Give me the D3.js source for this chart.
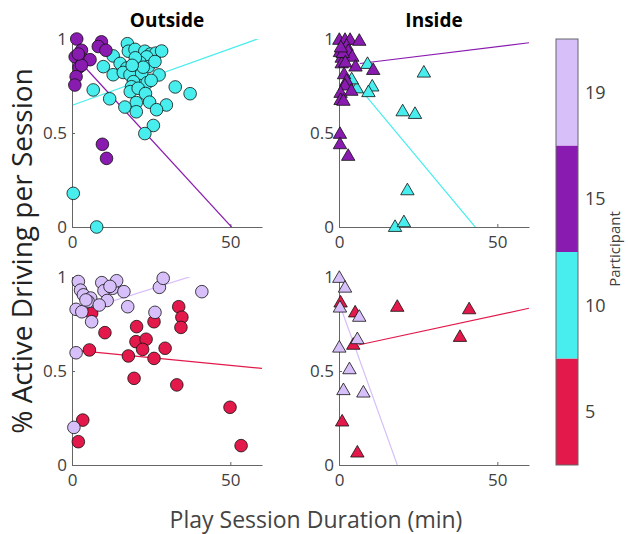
<!DOCTYPE html>
<html>
<head>
<meta charset="utf-8">
<script src="https://cdn.jsdelivr.net/npm/d3@7"></script>
<style>
  body { margin: 0; background: #fff; }
  svg { font-family: "Open Sans", "Noto Sans", sans-serif; }
</style>
</head>
<body>
<svg width="628" height="534"></svg>
<script>
// ---- data ----
const participants = [5, 10, 15, 19];
const participantColors = ["#e2194a", "#48eded", "#8a1bb0", "#d7bffa"];
const xTicks = [0, 50];
const yTicks = [0, 0.5, 1];

// Outside, participant 10 (cyan circles)
const outside10 = [[17.5,0.975],[17.8,0.935],[19.9,0.945],[23.0,0.935],[24.8,0.92],[26.5,0.925],[28.3,0.936],
  [23.6,0.905],[13.0,0.91],[9.9,0.853],[15.2,0.87],[17.3,0.845],[21.5,0.875],[24.1,0.853],[26.2,0.88],[13.0,0.81],
  [16.2,0.822],[18.3,0.809],[22.0,0.817],[27.5,0.809],[19.4,0.773],[23.7,0.767],[18.8,0.746],[6.7,0.729],
  [18.4,0.72],[20.9,0.738],[23.2,0.71],[11.9,0.682],[20.3,0.662],[24.5,0.664],[29.8,0.649],[16.7,0.638],
  [20.3,0.613],[26.7,0.624],[32.6,0.745],[37.3,0.709],[25.7,0.54],[23.0,0.497],[0.4,0.179],[7.8,0.0],
  [20.0,0.90],[22.5,0.85],[19.0,0.86],[25.0,0.78]];
// Outside, participant 15 (purple circles)
const outside15 = [[1.5,1.0],[3.0,0.94],[1.0,0.905],[3.5,0.89],[5.7,0.89],[2.2,0.85],[1.3,0.80],[0.9,0.755],
  [3.0,0.86],[9.3,0.985],[8.3,0.96],[10.7,0.94],[9.6,0.44],[10.9,0.365],[2.0,0.92]];
// Inside, participant 10 (cyan triangles)
const inside10 = [[9.0,0.872],[26.8,0.826],[5.6,0.742],[10.5,0.752],[9.3,0.722],[20.1,0.62],[24.0,0.606],
  [21.6,0.2],[17.7,0.005],[20.5,0.03],[4.0,0.79]];
// Inside, participant 15 (purple triangles)
const inside15 = [[0.1,1.0],[1.9,1.0],[3.5,1.0],[6.4,0.995],[2.4,0.968],[2.9,0.94],[0.3,0.935],[0.85,0.905],
  [4.2,0.91],[0.85,0.875],[5.2,0.858],[10.8,0.84],[1.6,0.817],[2.4,0.782],[1.9,0.757],[3.9,0.729],[0.5,0.718],
  [0.5,0.68],[1.4,0.676],[0.3,0.5],[0.3,0.445],[2.9,0.383],[1.2,0.93],[2.0,0.88],[0.6,0.96]];
// Outside, participant 5 (red circles)
const outside5 = [[6.2,0.807],[10.4,0.704],[5.5,0.612],[20.4,0.736],[25.9,0.762],[20.2,0.656],[23.4,0.669],
  [22.3,0.615],[29.4,0.621],[17.8,0.58],[25.9,0.567],[19.6,0.461],[33.1,0.426],[33.7,0.842],[34.7,0.786],
  [34.4,0.732],[49.9,0.307],[53.4,0.103],[3.4,0.239],[2.0,0.124]];
// Outside, participant 19 (lavender circles)
const outside19 = [[2.0,0.976],[2.7,0.93],[3.6,0.905],[5.9,0.888],[5.1,0.87],[9.4,0.97],[10.1,0.927],[12.8,0.94],
  [14.1,0.98],[16.4,0.922],[11.1,0.875],[8.6,0.851],[1.3,0.828],[3.1,0.815],[6.2,0.762],[17.6,0.842],[26.2,0.812],
  [27.6,0.945],[28.8,0.993],[41.0,0.922],[1.3,0.597],[0.6,0.2],[12.0,0.95],[4.4,0.878]];
// Inside, participant 5 (red triangles)
const inside5 = [[0.5,0.869],[5.1,0.816],[4.5,0.644],[18.4,0.846],[41.1,0.833],[38.2,0.686],[1.0,0.236],[5.8,0.071]];
// Inside, participant 19 (lavender triangles)
const inside19 = [[0.1,1.0],[1.9,0.948],[0.3,0.842],[6.4,0.793],[5.8,0.674],[0.1,0.629],[3.3,0.514],[1.4,0.403],[7.7,0.39]];

// linear fits: [intercept, slope, x start]
const fitOutside10 = [0.647, 0.00603, 0.3];
const fitOutside15 = [0.925, -0.01836, 4.1];
const fitInside10 = [0.869, -0.0202, 2.9];
const fitInside15 = [0.856, 0.00207, 6.6];
const fitOutside5 = [0.612, -0.00164, 1.3];
const fitOutside19 = [0.804, 0.0053, 3];
const fitInside5 = [0.616, 0.00363, 6.1];
const fitInside19 = [0.864, -0.0469, 0.3];

const xMax = 60;

const svg = d3.select("svg");
const color = d3.scaleOrdinal(participants, participantColors);

const panels = [
  { title: "Outside", left: 72, top: 39, shape: d3.symbolCircle,
    series: [{ p: 10, data: outside10, fit: fitOutside10 }, { p: 15, data: outside15, fit: fitOutside15 }] },
  { title: "Inside", left: 339, top: 39, shape: d3.symbolTriangle,
    series: [{ p: 10, data: inside10, fit: fitInside10 }, { p: 15, data: inside15, fit: fitInside15 }] },
  { left: 72, top: 277, shape: d3.symbolCircle,
    series: [{ p: 5, data: outside5, fit: fitOutside5 }, { p: 19, data: outside19, fit: fitOutside19 }] },
  { left: 339, top: 277, shape: d3.symbolTriangle,
    series: [{ p: 5, data: inside5, fit: fitInside5 }, { p: 19, data: inside19, fit: fitInside19 }] }
];
const pw = 190, ph = 188;

panels.forEach((panel, i) => {
  const x = d3.scaleLinear([0, xMax], [panel.left, panel.left + pw]);
  const y = d3.scaleLinear([0, 1], [panel.top + ph, panel.top]);
  const g = svg.append("g");

  // axes
  const xAxis = g.append("g")
    .attr("transform", `translate(0,${panel.top + ph})`)
    .call(d3.axisBottom(x).tickValues(xTicks).tickSizeInner(-3).tickSizeOuter(0).tickPadding(9));
  const yAxis = g.append("g")
    .attr("transform", `translate(${panel.left},0)`)
    .call(d3.axisLeft(y).tickValues(yTicks).tickFormat(d3.format("~g")).tickSizeInner(-3).tickSizeOuter(0).tickPadding(5));
  [xAxis, yAxis].forEach(a => {
    a.select(".domain").attr("stroke", "#666");
    a.selectAll(".tick line").attr("stroke", "#666");
    a.selectAll(".tick text").attr("fill", "#404040").style("font-size", "17px")
      .style("font-family", "'Open Sans', sans-serif");
  });

  if (panel.title) {
    g.append("text")
      .attr("x", panel.left + pw / 2).attr("y", 27)
      .attr("text-anchor", "middle")
      .style("font-weight", "bold").style("font-size", "19px")
      .attr("fill", "#000")
      .text(panel.title);
  }

  // fit lines clipped to the plot box
  const clipId = "clip" + i;
  svg.append("clipPath").attr("id", clipId)
    .append("rect").attr("x", panel.left).attr("y", panel.top).attr("width", pw).attr("height", ph);
  const line = d3.line().x(d => x(d[0])).y(d => y(d[1]));
  panel.series.forEach(s => {
    const [a, b, x0] = s.fit;
    g.append("path")
      .attr("clip-path", `url(#${clipId})`)
      .attr("d", line([[x0, a + b * x0], [xMax, a + b * xMax]]))
      .attr("fill", "none")
      .attr("stroke", color(s.p))
      .attr("stroke-width", 1.2);
  });

  // markers
  const sym = d3.symbol().type(panel.shape).size(panel.shape === d3.symbolCircle ? 125 : 78);
  panel.series.forEach(s => {
    g.append("g").selectAll("path")
      .data(s.data)
      .join("path")
      .attr("d", sym)
      .attr("transform", d => `translate(${x(d[0])},${y(d[1]) + (panel.shape === d3.symbolTriangle ? 1.5 : 0)})`)
      .attr("fill", color(s.p))
      .attr("stroke", "#111")
      .attr("stroke-width", 0.8);
  });
});

// axis titles
svg.append("text")
  .attr("transform", "translate(32,251) rotate(-90)")
  .attr("text-anchor", "middle")
  .style("font-size", "28px")
  .attr("fill", "#222")
  .text("% Active Driving per Session");
svg.append("text")
  .attr("x", 316).attr("y", 528)
  .attr("text-anchor", "middle")
  .style("font-size", "23px")
  .attr("fill", "#444")
  .text("Play Session Duration (min)");

// colorbar
const cb = d3.scaleBand(participants.slice().reverse(), [39, 465]);
const cbg = svg.append("g");
cbg.selectAll("rect")
  .data(participants)
  .join("rect")
  .attr("x", 556).attr("width", 22)
  .attr("y", d => cb(d)).attr("height", cb.bandwidth())
  .attr("fill", d => color(d));
cbg.append("rect")
  .attr("x", 556).attr("y", 39).attr("width", 22).attr("height", 426)
  .attr("fill", "none").attr("stroke", "#666").attr("stroke-width", 1);
cbg.selectAll("text")
  .data(participants)
  .join("text")
  .attr("x", 585)
  .attr("y", d => cb(d) + cb.bandwidth() / 2)
  .attr("dy", "0.35em")
  .style("font-size", "18px")
  .attr("fill", "#404040")
  .text(d => d);
svg.append("text")
  .attr("transform", "translate(620,249) rotate(-90)")
  .attr("text-anchor", "middle")
  .style("font-size", "15px")
  .attr("fill", "#404040")
  .text("Participant");
</script>
</body>
</html>
